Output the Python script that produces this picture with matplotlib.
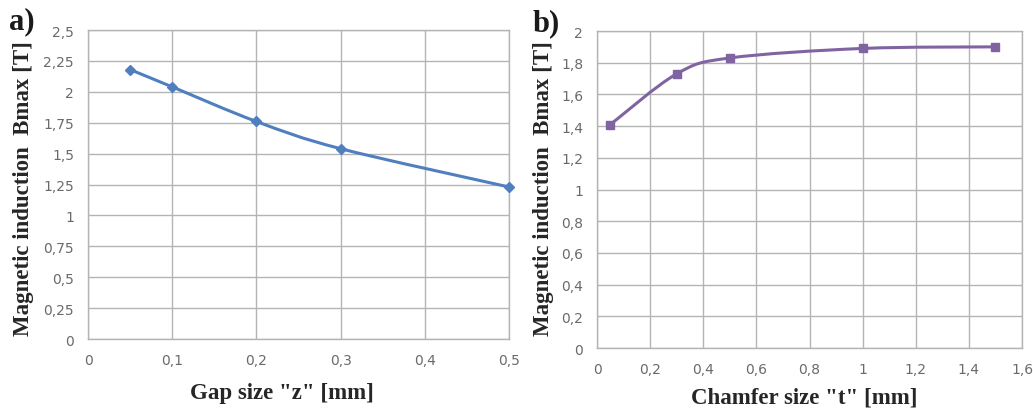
import numpy as np
import matplotlib
matplotlib.use("Agg")
import matplotlib.pyplot as plt
from matplotlib.path import Path
from matplotlib.patches import PathPatch
from matplotlib.ticker import FuncFormatter, MultipleLocator

# Datos
gap_z = [0.05, 0.1, 0.2, 0.3, 0.5]
bmax_gap = [2.18, 2.04, 1.76, 1.54, 1.23]

chamfer_t = [0.05, 0.3, 0.5, 1.0, 1.5]
bmax_chamfer = [1.41, 1.73, 1.83, 1.89, 1.90]

azul = '#4f7fbf'
morado = '#8064a2'
gris_grid = '#b4b4b4'
gris_txt = '#6a6a6a'


def coma(v, pos):
    s = ('%g' % round(v, 4)).replace('.', ',')
    return s


def linea_suave(ax, x, y, color):
    """Linea suavizada tipo Excel (Catmull-Rom -> Bezier)"""
    x = np.asarray(x, float)
    y = np.asarray(y, float)
    pts = np.column_stack([x, y])
    verts = [pts[0]]
    codes = [Path.MOVETO]
    n = len(pts)
    for i in range(n - 1):
        p0 = pts[i - 1] if i > 0 else pts[i]
        p1 = pts[i]
        p2 = pts[i + 1]
        p3 = pts[i + 2] if i + 2 < n else pts[i + 1]
        c1 = p1 + (p2 - p0) / 6.0
        c2 = p2 - (p3 - p1) / 6.0
        verts += [c1, c2, p2]
        codes += [Path.CURVE4] * 3
    patch = PathPatch(Path(verts, codes), facecolor='none', edgecolor=color,
                      lw=2.2, zorder=3, capstyle='round')
    ax.add_patch(patch)


def estilo(ax, xlim, xstep, ylim, ystep, xlabel, xl_pos, yl_pos):
    ax.set_xlim(*xlim)
    ax.set_ylim(*ylim)
    ax.xaxis.set_major_locator(MultipleLocator(xstep))
    ax.yaxis.set_major_locator(MultipleLocator(ystep))
    ax.xaxis.set_major_formatter(FuncFormatter(coma))
    ax.yaxis.set_major_formatter(FuncFormatter(coma))
    ax.grid(True, color=gris_grid, lw=1.0)
    ax.set_axisbelow(True)
    for sp in ax.spines.values():
        sp.set_color(gris_grid)
        sp.set_linewidth(1.0)
    ax.tick_params(axis='both', length=0, labelsize=10, labelcolor=gris_txt,
                   labelfontfamily='DejaVu Sans')
    ax.tick_params(axis='x', pad=10)
    ax.tick_params(axis='y', pad=10)
    ax.set_ylabel('Magnetic induction  Bmax [T]', fontsize=16.5, fontweight='bold',
                  family='Liberation Serif', color='#262626', va='center')
    ax.set_xlabel(xlabel, fontsize=16.5, fontweight='bold',
                  family='Liberation Serif', color='#262626', va='center')
    ax.yaxis.set_label_coords(*yl_pos)
    ax.xaxis.set_label_coords(*xl_pos)


fig = plt.figure(figsize=(10.33, 4.14), dpi=100)
ax1 = fig.add_axes([0.0852, 0.1787, 0.4075, 0.7464])
ax2 = fig.add_axes([0.578, 0.157, 0.4114, 0.7657])

estilo(ax1, (0, 0.5), 0.1, (0, 2.5), 0.25, 'Gap size "z" [mm]',
       (0.461, -0.172), (-0.154, 0.49))
linea_suave(ax1, gap_z, bmax_gap, azul)
ax1.plot(gap_z, bmax_gap, 'D', color=azul, ms=5, zorder=4, clip_on=False)

estilo(ax2, (0, 1.6), 0.2, (0, 2), 0.2, 'Chamfer size "t" [mm]',
       (0.487, -0.155), (-0.127, 0.505))
linea_suave(ax2, chamfer_t, bmax_chamfer, morado)
ax2.plot(chamfer_t, bmax_chamfer, 's', color=morado, ms=5.5, zorder=4, clip_on=False)

fig.text(0.009, 0.947, 'a)', fontsize=22, fontweight='bold',
         family='Liberation Serif', color='#1a1a1a', va='center')
fig.text(0.516, 0.943, 'b)', fontsize=22, fontweight='bold',
         family='Liberation Serif', color='#1a1a1a', va='center')

fig.savefig('out.png', dpi=100, facecolor='white')
